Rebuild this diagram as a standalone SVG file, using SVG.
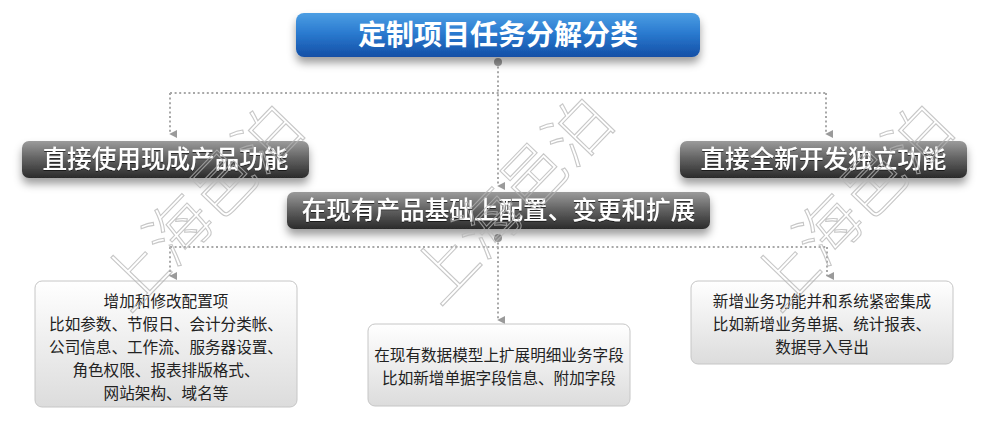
<svg xmlns="http://www.w3.org/2000/svg" width="981" height="429" viewBox="0 0 981 429">
<defs>
<linearGradient id="gBlue" x1="0" y1="0" x2="0" y2="1">
<stop offset="0" stop-color="#4c9ee3"/>
<stop offset="0.45" stop-color="#2b7bd0"/>
<stop offset="1" stop-color="#134fa6"/>
</linearGradient>
<linearGradient id="gGray" x1="0" y1="0" x2="0" y2="1">
<stop offset="0" stop-color="#9b9b9b"/>
<stop offset="0.45" stop-color="#656565"/>
<stop offset="1" stop-color="#2b2b2b"/>
</linearGradient>
<linearGradient id="gLight" x1="0" y1="0" x2="0" y2="1">
<stop offset="0" stop-color="#ffffff"/>
<stop offset="1" stop-color="#dcdcdc"/>
</linearGradient>
<filter id="shadow" x="-10%" y="-30%" width="120%" height="190%">
<feDropShadow dx="0" dy="6" stdDeviation="4.5" flood-color="#000" flood-opacity="0.38"/>
</filter>
<filter id="tshadow" x="-5%" y="-20%" width="110%" height="150%">
<feDropShadow dx="0" dy="1" stdDeviation="0.6" flood-color="#000" flood-opacity="0.6"/>
</filter>
<marker id="arrow" viewBox="0 0 10 10" refX="5" refY="9" markerWidth="9" markerHeight="8" markerUnits="userSpaceOnUse" orient="auto-start-reverse">
<path d="M0,0 L10,0 L5,10 Z" fill="#9a9a9a"/>
</marker>
<style>
.conn{fill:none;stroke:#a8a8a8;stroke-width:2;stroke-dasharray:2 2.6}
.dot{fill:#9a9a9a}
.title{font-family:"Noto Sans CJK SC","Noto Sans",sans-serif;font-size:28px;font-weight:bold;fill:#fff;text-anchor:middle}
.gtext{font-family:"Noto Sans CJK SC","Noto Sans",sans-serif;font-size:24.6px;font-weight:500;fill:#fff;text-anchor:middle}
.btext{font-family:"Noto Sans CJK SC","Noto Sans",sans-serif;font-size:15.6px;fill:#222;text-anchor:middle}
.wm{font-family:"Noto Sans CJK SC",sans-serif;font-size:64px;font-weight:300;fill:none;stroke:#b5b5b5;stroke-width:1.1;opacity:0.75}
.gbox{fill:url(#gGray)}
.lbox{fill:url(#gLight);stroke:#c6c6c6;stroke-width:1}
</style>
</defs>
<rect width="981" height="429" fill="#fff"/>

<g id="connectors">
<path class="conn" d="M498,62 V186" marker-end="url(#arrow)"/>
<path class="conn" d="M170,93 H826"/>
<path class="conn" d="M170,93 V134" marker-end="url(#arrow)"/>
<path class="conn" d="M826,93 V134" marker-end="url(#arrow)"/>
<path class="conn" d="M170,247 H827"/>
<path class="conn" d="M170,247 V276" marker-end="url(#arrow)"/>
<path class="conn" d="M498,238 V320" marker-end="url(#arrow)"/>
<path class="conn" d="M827,247 V276" marker-end="url(#arrow)"/>
<circle class="dot" cx="498" cy="62" r="4"/>
<circle class="dot" cx="498" cy="238" r="4"/>
</g>

<g id="root">
<rect x="296" y="13" width="404" height="44" rx="8" fill="url(#gBlue)" filter="url(#shadow)"/>
<text class="title" x="498" y="45">定制项目任务分解分类</text>
</g>

<g id="node-direct-use">
<rect class="gbox" x="22" y="141" width="287" height="37" rx="7" filter="url(#shadow)"/>
<text class="gtext" x="165.5" y="168" filter="url(#tshadow)">直接使用现成产品功能</text>
</g>

<g id="node-new-dev">
<rect class="gbox" x="680" y="141" width="287" height="37" rx="7" filter="url(#shadow)"/>
<text class="gtext" x="823.5" y="168" filter="url(#tshadow)">直接全新开发独立功能</text>
</g>

<g id="node-extend">
<rect class="gbox" x="287" y="192" width="423" height="37" rx="7" filter="url(#shadow)"/>
<text class="gtext" x="498.5" y="219" filter="url(#tshadow)">在现有产品基础上配置、变更和扩展</text>
</g>

<g id="box-config">
<rect class="lbox" x="35" y="281" width="262" height="126" rx="7"/>
<text class="btext" x="166" y="307">增加和修改配置项</text>
<text class="btext" x="166" y="330">比如参数、节假日、会计分类帐、</text>
<text class="btext" x="166" y="353">公司信息、工作流、服务器设置、</text>
<text class="btext" x="166" y="376">角色权限、报表排版格式、</text>
<text class="btext" x="166" y="399">网站架构、域名等</text>
</g>

<g id="box-extend">
<rect class="lbox" x="368" y="324" width="262" height="82" rx="7"/>
<text class="btext" x="499" y="361">在现有数据模型上扩展明细业务字段</text>
<text class="btext" x="499" y="384">比如新增单据字段信息、附加字段</text>
</g>

<g id="box-new">
<rect class="lbox" x="691" y="281" width="262" height="83" rx="7"/>
<text class="btext" x="822" y="307">新增业务功能并和系统紧密集成</text>
<text class="btext" x="822" y="330">比如新增业务单据、统计报表、</text>
<text class="btext" x="822" y="353">数据导入导出</text>
</g>

<g id="watermark">
<text class="wm" x="0" y="22" text-anchor="middle" transform="translate(202,207) rotate(-46)">上海邑泊</text>
<text class="wm" x="0" y="22" text-anchor="middle" transform="translate(512,200) rotate(-46)">上海邑泊</text>
<text class="wm" x="0" y="22" text-anchor="middle" transform="translate(852,207) rotate(-46)">上海邑泊</text>
</g>
</svg>
